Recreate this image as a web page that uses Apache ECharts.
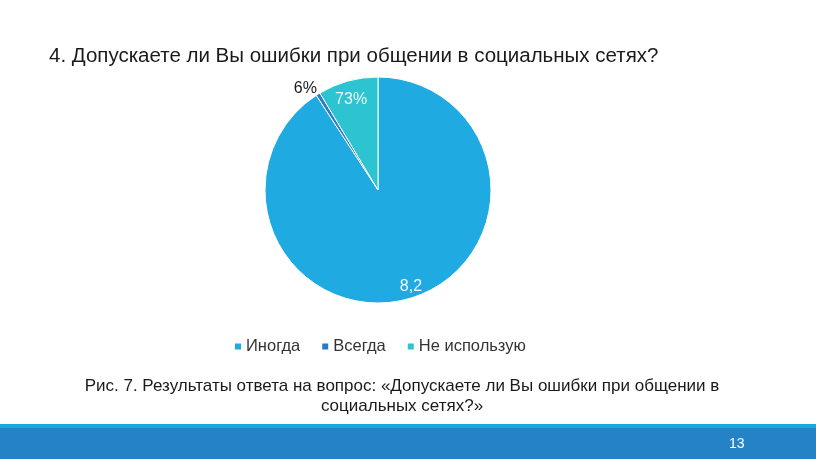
<!DOCTYPE html>
<html>
<head>
<meta charset="utf-8">
<script src="https://cdn.jsdelivr.net/npm/echarts@6/dist/echarts.min.js"></script>
<style>html,body{margin:0;padding:0;background:#fff;}#c{width:816px;height:459px;}</style>
</head>
<body>
<div id="c"></div>
<script>
var categories = ['Иногда', 'Всегда', 'Не использую'];
var values = [90.8, 0.6, 8.6];
var sliceLabels = ['8,2', '6%', '73%'];
var colors = ['#1FABE2', '#2A7CC2', '#2BC4D0'];
var labelColors = ['#f2f9fd', '#1a1a1a', '#eef9fa'];
var labelOffsets = [[16, 40], [-41, -51], [-11, -33]];
var titleText = '4. Допускаете ли Вы ошибки при общении в социальных сетях?';
var captionText = 'Рис. 7. Результаты ответа на вопрос: «Допускаете ли Вы ошибки при общении в\nсоциальных сетях?»';
var pageNumber = '13';

var FONT = 'Liberation Sans, Arial, sans-serif';
var chart = echarts.init(document.getElementById('c'), null, {renderer: 'canvas'});
var data = categories.map(function (c, i) {
  return {
    name: c,
    value: values[i],
    itemStyle: {color: colors[i]},
    label: {
      show: true,
      position: 'inside',
      formatter: sliceLabels[i],
      color: labelColors[i],
      fontSize: 16,
      fontFamily: FONT,
      offset: labelOffsets[i]
    }
  };
});
chart.setOption({
  animation: false,
  backgroundColor: '#ffffff',
  title: [{
    text: titleText,
    left: 44, top: 41,
    textStyle: {fontSize: 20.5, fontWeight: 'normal', color: '#1a1a1a', fontFamily: FONT}
  }, {
    text: captionText,
    left: 397, top: 371,
    textAlign: 'center',
    textStyle: {fontSize: 17, fontWeight: 'normal', color: '#1a1a1a', lineHeight: 20, fontFamily: FONT}
  }],
  legend: {
    data: categories,
    left: 228, top: 333,
    icon: 'rect', itemWidth: 8, itemHeight: 8, itemGap: 20,
    textStyle: {fontSize: 16.5, color: '#333', fontFamily: FONT, padding: [0, 0, 0, -1]}
  },
  graphic: [
    {type: 'rect', shape: {x: 0, y: 424, width: 816, height: 5}, style: {fill: '#1DA7E0'}, silent: true},
    {type: 'rect', shape: {x: 0, y: 428, width: 816, height: 31}, style: {fill: '#2582C5'}, silent: true},
    {type: 'text', left: 729, top: 437, style: {text: pageNumber, fill: '#ffffff', fontSize: 14, fontFamily: FONT}}
  ],
  series: [{
    type: 'pie',
    center: [378, 190],
    radius: [0, 113],
    startAngle: 90,
    clockwise: true,
    avoidLabelOverlap: false,
    labelLine: {show: false},
    itemStyle: {borderColor: '#ffffff', borderWidth: 1},
    emphasis: {disabled: true},
    data: data
  }]
});
</script>
</body>
</html>
